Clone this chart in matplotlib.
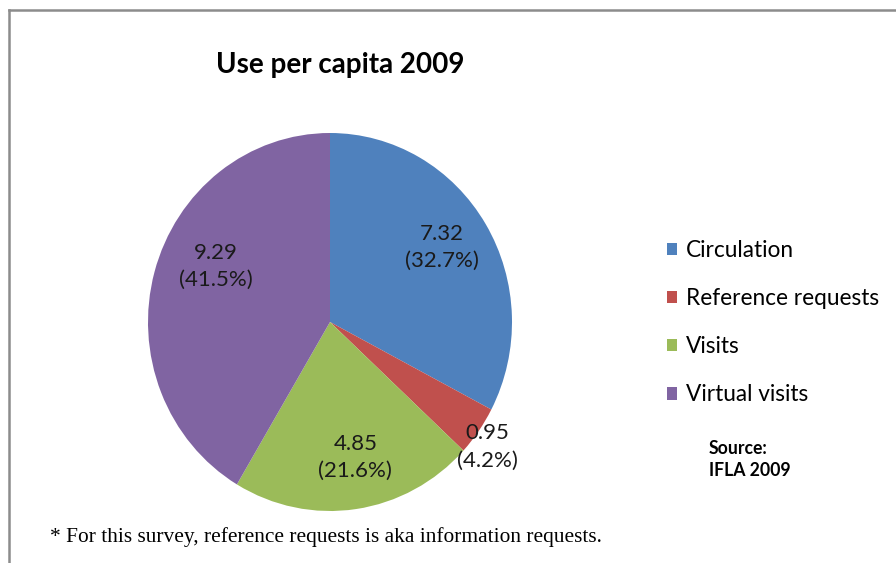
import numpy as np
import matplotlib
matplotlib.use("Agg")
import matplotlib.pyplot as plt
from matplotlib.patches import Patch
from matplotlib.lines import Line2D

categories = ["Circulation", "Reference requests", "Visits", "Virtual visits"]
values = [7.32, 0.95, 4.85, 9.29]
percent_labels = ["32.7%", "4.2%", "21.6%", "41.5%"]
colors = ["#4F81BD", "#C0504D", "#9BBB59", "#8064A2"]

# label placement (distance from centre, angle tweak in degrees) per slice
label_dist = [0.73, 1.09, 0.73, 0.69]
label_turn = [1.6, -2.1, 2.8, -9.7]

FONT = "Lato"

fig = plt.figure(figsize=(8.96, 5.63), dpi=100)
W, H = 896, 563

# slightly taller than wide, like the original
ax = fig.add_axes([148 / W, 52 / H, 364 / W, 378 / H])
wedges, _ = ax.pie(values, colors=colors, startangle=90, counterclock=False,
                   wedgeprops=dict(linewidth=0))
ax.set_aspect("auto")
ax.set_xlim(-1, 1)
ax.set_ylim(-1, 1)
ax.axis("off")

for w, v, p, d, t in zip(wedges, values, percent_labels, label_dist, label_turn):
    mid = np.deg2rad((w.theta1 + w.theta2) / 2 + t)
    ax.text(d * np.cos(mid), d * np.sin(mid), f"{v:.2f}\n({p})",
            ha="center", va="center", fontsize=16, family=FONT,
            color="#1a1a1a", linespacing=1.45, clip_on=False)

fig.text(340 / W, 1 - 65 / H, "Use per capita 2009", ha="center", va="center",
         fontsize=20, fontweight="bold", family=FONT)

handles = [Patch(facecolor=c, edgecolor="none") for c in colors]
fig.legend(handles, categories, loc="upper left",
           bbox_to_anchor=(667 / W, 1 - 240 / H), frameon=False,
           prop=dict(family=FONT, size=16.3), labelspacing=1.2,
           handlelength=0.45, handleheight=0.45, handletextpad=0.4,
           borderpad=0, borderaxespad=0)

fig.text(709 / W, 1 - 448 / H, "Source:", ha="left", va="center",
         fontsize=12.7, fontweight="bold", family=FONT)
fig.text(709 / W, 1 - 471 / H, "IFLA 2009", ha="left", va="center",
         fontsize=12.7, fontweight="bold", family=FONT)

fig.text(50 / W, 1 - 537 / H,
         "* For this survey, reference requests is aka information requests.",
         ha="left", va="center", fontsize=15.4, family="Liberation Serif")

# chart border (top and left edges visible)
fig.add_artist(Line2D([9 / W, 1], [1 - 10 / H, 1 - 10 / H], color="#8c8c8c",
                      linewidth=1.8, transform=fig.transFigure))
fig.add_artist(Line2D([9 / W, 9 / W], [0, 1 - 10 / H], color="#8c8c8c",
                      linewidth=1.8, transform=fig.transFigure))

fig.savefig("out.png", dpi=100)
